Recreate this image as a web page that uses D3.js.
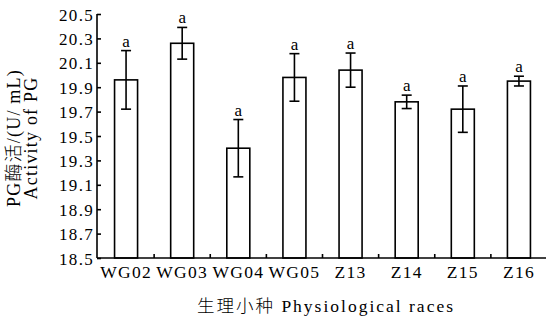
<!DOCTYPE html>
<html>
<head>
<meta charset="utf-8">
<script src="https://cdn.jsdelivr.net/npm/d3@7"></script>
<style>
  html, body { margin: 0; padding: 0; background: #fff; }
  svg { display: block; }
  text { font-family: "Liberation Serif", "Times New Roman", serif; fill: #000; }
  .cjk { font-family: "Noto Sans CJK SC", serif; font-weight: 300; }
</style>
</head>
<body>
<svg id="chart" width="546" height="320"></svg>
<script>
// Physiological races and their PG activity (mean ± SD, U/mL)
const races = ["WG02", "WG03", "WG04", "WG05", "Z13", "Z14", "Z15", "Z16"];
const pgMean = [19.96, 20.26, 19.40, 19.98, 20.04, 19.78, 19.72, 19.95];
const pgSD = [0.24, 0.13, 0.235, 0.195, 0.14, 0.055, 0.19, 0.04];
const sigLetters = ["a", "a", "a", "a", "a", "a", "a", "a"];
const yTicks = [18.5, 18.7, 18.9, 19.1, 19.3, 19.5, 19.7, 19.9, 20.1, 20.3, 20.5];

const svg = d3.select("#chart");
const plotL = 97, plotR = 547, plotT = 14, plotB = 258;

const y = d3.scaleLinear().domain([18.5, 20.5]).range([plotB, plotT]);
const x = d3.scaleBand().domain(races).range([plotL + 1, plotR])
  .paddingInner(0.59).paddingOuter(0.295);

const ink = "#000";

// bars
svg.append("g").selectAll("rect").data(races).join("rect")
  .attr("x", d => x(d))
  .attr("y", (d, i) => y(pgMean[i]))
  .attr("width", x.bandwidth())
  .attr("height", (d, i) => y(18.5) - y(pgMean[i]))
  .attr("fill", "#fff").attr("stroke", ink).attr("stroke-width", 1.6);

// error bars
const eb = svg.append("g").attr("stroke", ink).attr("stroke-width", 1.6);
races.forEach((r, i) => {
  const cx = x(r) + x.bandwidth() / 2;
  const hi = y(pgMean[i] + pgSD[i]), lo = y(pgMean[i] - pgSD[i]);
  eb.append("line").attr("x1", cx).attr("x2", cx).attr("y1", hi).attr("y2", lo);
  eb.append("line").attr("x1", cx - 5).attr("x2", cx + 5).attr("y1", hi).attr("y2", hi);
  eb.append("line").attr("x1", cx - 5).attr("x2", cx + 5).attr("y1", lo).attr("y2", lo);
});

// significance letters
svg.append("g").selectAll("text").data(races).join("text")
  .attr("x", d => x(d) + x.bandwidth() / 2)
  .attr("y", (d, i) => y(pgMean[i] + pgSD[i]) - 4)
  .attr("text-anchor", "middle")
  .attr("font-size", 17)
  .text((d, i) => sigLetters[i]);

// y axis with inward ticks
const yAxis = svg.append("g").attr("transform", `translate(${plotL},0)`)
  .call(d3.axisRight(y).tickValues(yTicks).tickSize(4).tickFormat(d3.format(".1f")));
yAxis.select(".domain").attr("stroke", ink).attr("stroke-width", 1.6).attr("d", `M0,${plotT}V${plotB}`);
yAxis.selectAll(".tick line").attr("stroke", ink).attr("stroke-width", 1.6);
yAxis.selectAll(".tick text")
  .attr("x", -3).attr("text-anchor", "end")
  .attr("font-size", 17).attr("letter-spacing", 1.3)
  .attr("font-family", "Liberation Serif").attr("dy", "0.36em");

// x axis: baseline with small upward ticks between groups
svg.append("line").attr("x1", plotL).attr("x2", 546).attr("y1", plotB).attr("y2", plotB)
  .attr("stroke", ink).attr("stroke-width", 1.6);
const bounds = races.slice(0, -1).map(r => x(r) + x.bandwidth() / 2 + x.step() / 2);
svg.append("g").selectAll("line").data(bounds).join("line")
  .attr("x1", d => d).attr("x2", d => d).attr("y1", plotB).attr("y2", plotB - 4)
  .attr("stroke", ink).attr("stroke-width", 1.6);

svg.append("g").selectAll("text").data(races).join("text")
  .attr("x", d => x(d) + x.bandwidth() / 2)
  .attr("y", 278)
  .attr("text-anchor", "middle")
  .attr("font-size", 17.5).attr("letter-spacing", 1.3)
  .text(d => d);

// axis titles
svg.append("text").attr("x", 326).attr("y", 312).attr("text-anchor", "middle")
  .attr("font-size", 17.5).attr("letter-spacing", 2)
  .html('<tspan class="cjk">生理小种</tspan> Physiological races');

const yt = svg.append("g").attr("transform", "translate(0,138) rotate(-90)");
yt.append("text").attr("x", 0).attr("y", 20).attr("text-anchor", "middle")
  .attr("font-size", 18).attr("letter-spacing", 1.2)
  .html('PG<tspan class="cjk">酶活</tspan>/(U/ mL)');
yt.append("text").attr("x", 0).attr("y", 37).attr("text-anchor", "middle")
  .attr("font-size", 18).attr("letter-spacing", 1.2)
  .text("Activity of PG");
</script>
</body>
</html>
